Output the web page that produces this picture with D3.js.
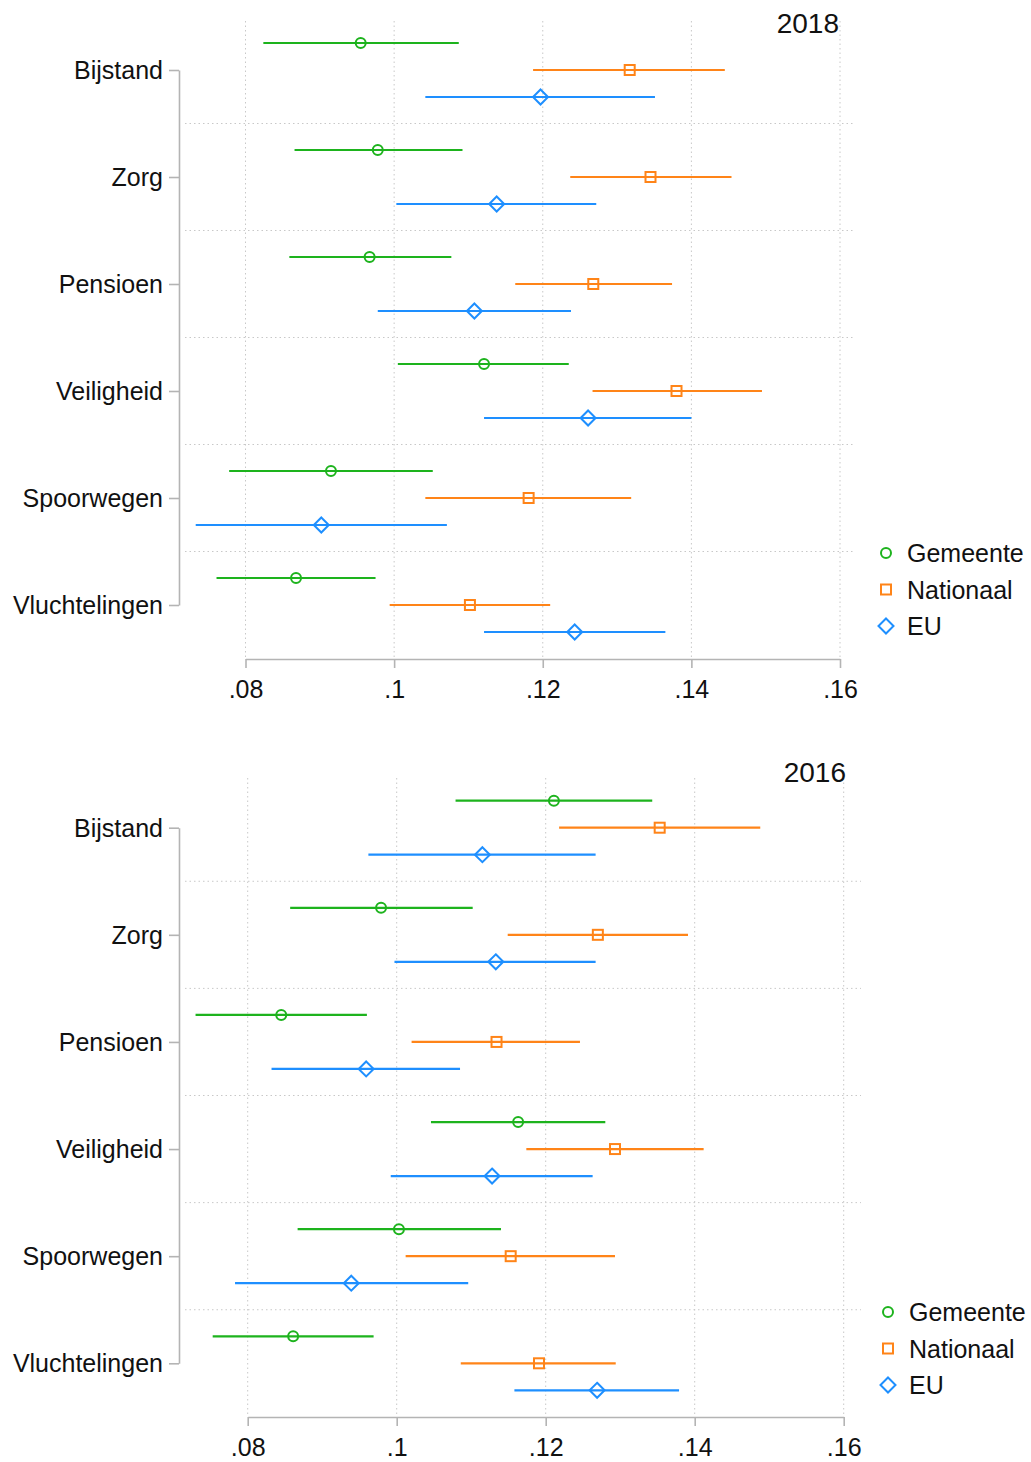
<!DOCTYPE html>
<html>
<head>
<meta charset="utf-8">
<script src="https://cdn.jsdelivr.net/npm/d3@7"></script>
<style>
  body { margin: 0; background: #fff; }
  svg { display: block; font-family: "Liberation Sans", Arial, sans-serif; }
</style>
</head>
<body>
<svg width="1031" height="1462"></svg>
<script>
const categories = ["Bijstand", "Zorg", "Pensioen", "Veiligheid", "Spoorwegen", "Vluchtelingen"];
const seriesNames = ["Gemeente", "Nationaal", "EU"];
const xTicks = [0.08, 0.10, 0.12, 0.14, 0.16];

// [lower, estimate, upper] per category
const gemeente2018 = [[0.0824, 0.0955, 0.1087], [0.0866, 0.0978, 0.1092], [0.0859, 0.0967, 0.1077],
  [0.1005, 0.1121, 0.1235], [0.0778, 0.0915, 0.1052], [0.0761, 0.0868, 0.0975]];
const nationaal2018 = [[0.1187, 0.1317, 0.1445], [0.1237, 0.1345, 0.1454], [0.1163, 0.1268, 0.1374],
  [0.1267, 0.1380, 0.1495], [0.1042, 0.1181, 0.1319], [0.0994, 0.1102, 0.1210]];
const eu2018 = [[0.1042, 0.1197, 0.1351], [0.1003, 0.1138, 0.1272], [0.0978, 0.1108, 0.1238],
  [0.1121, 0.1261, 0.1400], [0.0733, 0.0902, 0.1071], [0.1121, 0.1243, 0.1365]];

const gemeente2016 = [[0.1079, 0.1211, 0.1343], [0.0857, 0.0979, 0.1102], [0.0730, 0.0845, 0.0960],
  [0.1046, 0.1163, 0.1280], [0.0867, 0.1003, 0.1140], [0.0753, 0.0861, 0.0969]];
const nationaal2016 = [[0.1218, 0.1353, 0.1488], [0.1149, 0.1270, 0.1391], [0.1020, 0.1134, 0.1246],
  [0.1174, 0.1293, 0.1412], [0.1012, 0.1153, 0.1293], [0.1086, 0.1191, 0.1294]];
const eu2016 = [[0.0962, 0.1115, 0.1267], [0.0997, 0.1133, 0.1267], [0.0832, 0.0959, 0.1085],
  [0.0992, 0.1128, 0.1263], [0.0783, 0.0939, 0.1096], [0.1158, 0.1269, 0.1379]];

let colors = ["#1db31d", "#ff8418", "#1e8fff"];

let svg = d3.select("svg");
svg.append("rect").attr("width", 1031).attr("height", 1462).attr("fill", "#fff");

let panels = [
  { year: "2018", data: [gemeente2018, nationaal2018, eu2018],
    x0: 245.5, x1: 840, yTop: 70, yBot: 605, axisY: 659, gridTop: 21, gridRight: 853,
    titleX: 839, titleY: 33, legendY: 553, legendX: 886 },
  { year: "2016", data: [gemeente2016, nationaal2016, eu2016],
    x0: 247.7, x1: 843.7, yTop: 827.7, yBot: 1363.3, axisY: 1417, gridTop: 778, gridRight: 861,
    titleX: 846, titleY: 782, legendY: 1312, legendX: 888 }
];

function marker(sel, i) {
  if (i === 0) {
    sel.append("circle").attr("r", 5);
  } else if (i === 1) {
    sel.append("rect").attr("x", -5).attr("y", -5).attr("width", 10).attr("height", 10);
  } else {
    sel.append("path").attr("d", "M0,-7.5L7.5,0L0,7.5L-7.5,0Z");
  }
}

panels.forEach((p) => {
  let g = svg.append("g");

  let x = d3.scaleLinear().domain([0.08, 0.16]).range([p.x0, p.x1]);
  let y = d3.scalePoint().domain(categories).range([p.yTop, p.yBot]);
  let off = d3.scalePoint().domain(seriesNames).range([-27, 27]);

  // grid
  g.selectAll(".vgrid")
    .data(xTicks)
    .join("line")
    .attr("x1", (d) => x(d)).attr("x2", (d) => x(d))
    .attr("y1", p.gridTop).attr("y2", p.axisY)
    .attr("stroke", "#c8c8c8").attr("stroke-width", 1).attr("stroke-dasharray", "1.5,3");

  let mids = d3.pairs(categories.map((c) => y(c))).map((d) => (d[0] + d[1]) / 2);
  g.selectAll(".hgrid")
    .data(mids)
    .join("line")
    .attr("x1", 185).attr("x2", p.gridRight)
    .attr("y1", (d) => d).attr("y2", (d) => d)
    .attr("stroke", "#c8c8c8").attr("stroke-width", 1).attr("stroke-dasharray", "1.5,3");

  // axes
  let yAxis = g.append("g")
    .attr("transform", "translate(179,0)")
    .call(d3.axisLeft(y).tickSize(10).tickPadding(6).tickSizeOuter(0));

  let xAxis = g.append("g")
    .attr("transform", "translate(0," + p.axisY + ")")
    .call(d3.axisBottom(x).tickValues(xTicks).tickSize(9).tickPadding(12).tickSizeOuter(0)
      .tickFormat((d) => d3.format(".2~f")(d).replace(/^0/, "")));

  [yAxis, xAxis].forEach((a) => {
    a.select(".domain").attr("stroke", "#b4b4b4").attr("stroke-width", 1.6);
    a.selectAll(".tick line").attr("stroke", "#b4b4b4").attr("stroke-width", 1.6);
    a.selectAll(".tick text").attr("fill", "#111").style("font-size", "25px")
      .style("font-family", "'Liberation Sans', Arial, sans-serif");
  });
  yAxis.selectAll(".tick text").attr("dy", "0.34em");

  // series
  seriesNames.forEach((s, i) => {
    let rows = p.data[i].map((d, j) => ({ cat: categories[j], lo: d[0], est: d[1], hi: d[2] }));
    let sg = g.append("g").attr("stroke", colors[i]).attr("fill", "none");

    sg.selectAll("line")
      .data(rows)
      .join("line")
      .attr("x1", (d) => x(d.lo)).attr("x2", (d) => x(d.hi))
      .attr("y1", (d) => y(d.cat) + off(s)).attr("y2", (d) => y(d.cat) + off(s))
      .attr("stroke-width", 2.2);

    sg.selectAll("g.pt")
      .data(rows)
      .join("g")
      .attr("class", "pt")
      .attr("stroke-width", 2)
      .attr("transform", (d) => "translate(" + x(d.est) + "," + (y(d.cat) + off(s)) + ")")
      .each(function () { marker(d3.select(this), i); });
  });

  // title
  g.append("text")
    .attr("x", p.titleX).attr("y", p.titleY)
    .attr("text-anchor", "end")
    .style("font-size", "28px").attr("fill", "#111")
    .text(p.year);

  // legend
  let leg = g.selectAll(".leg")
    .data(seriesNames)
    .join("g")
    .attr("transform", (d, i) => "translate(" + p.legendX + "," + (p.legendY + i * 36.5) + ")");

  leg.each(function (d, i) {
    let m = d3.select(this).append("g").attr("stroke", colors[i]).attr("fill", "none").attr("stroke-width", 2);
    marker(m, i);
  });
  leg.append("text")
    .attr("x", 21).attr("dy", "0.36em")
    .style("font-size", "25px").attr("fill", "#111")
    .text((d) => d);
});
</script>
</body>
</html>
